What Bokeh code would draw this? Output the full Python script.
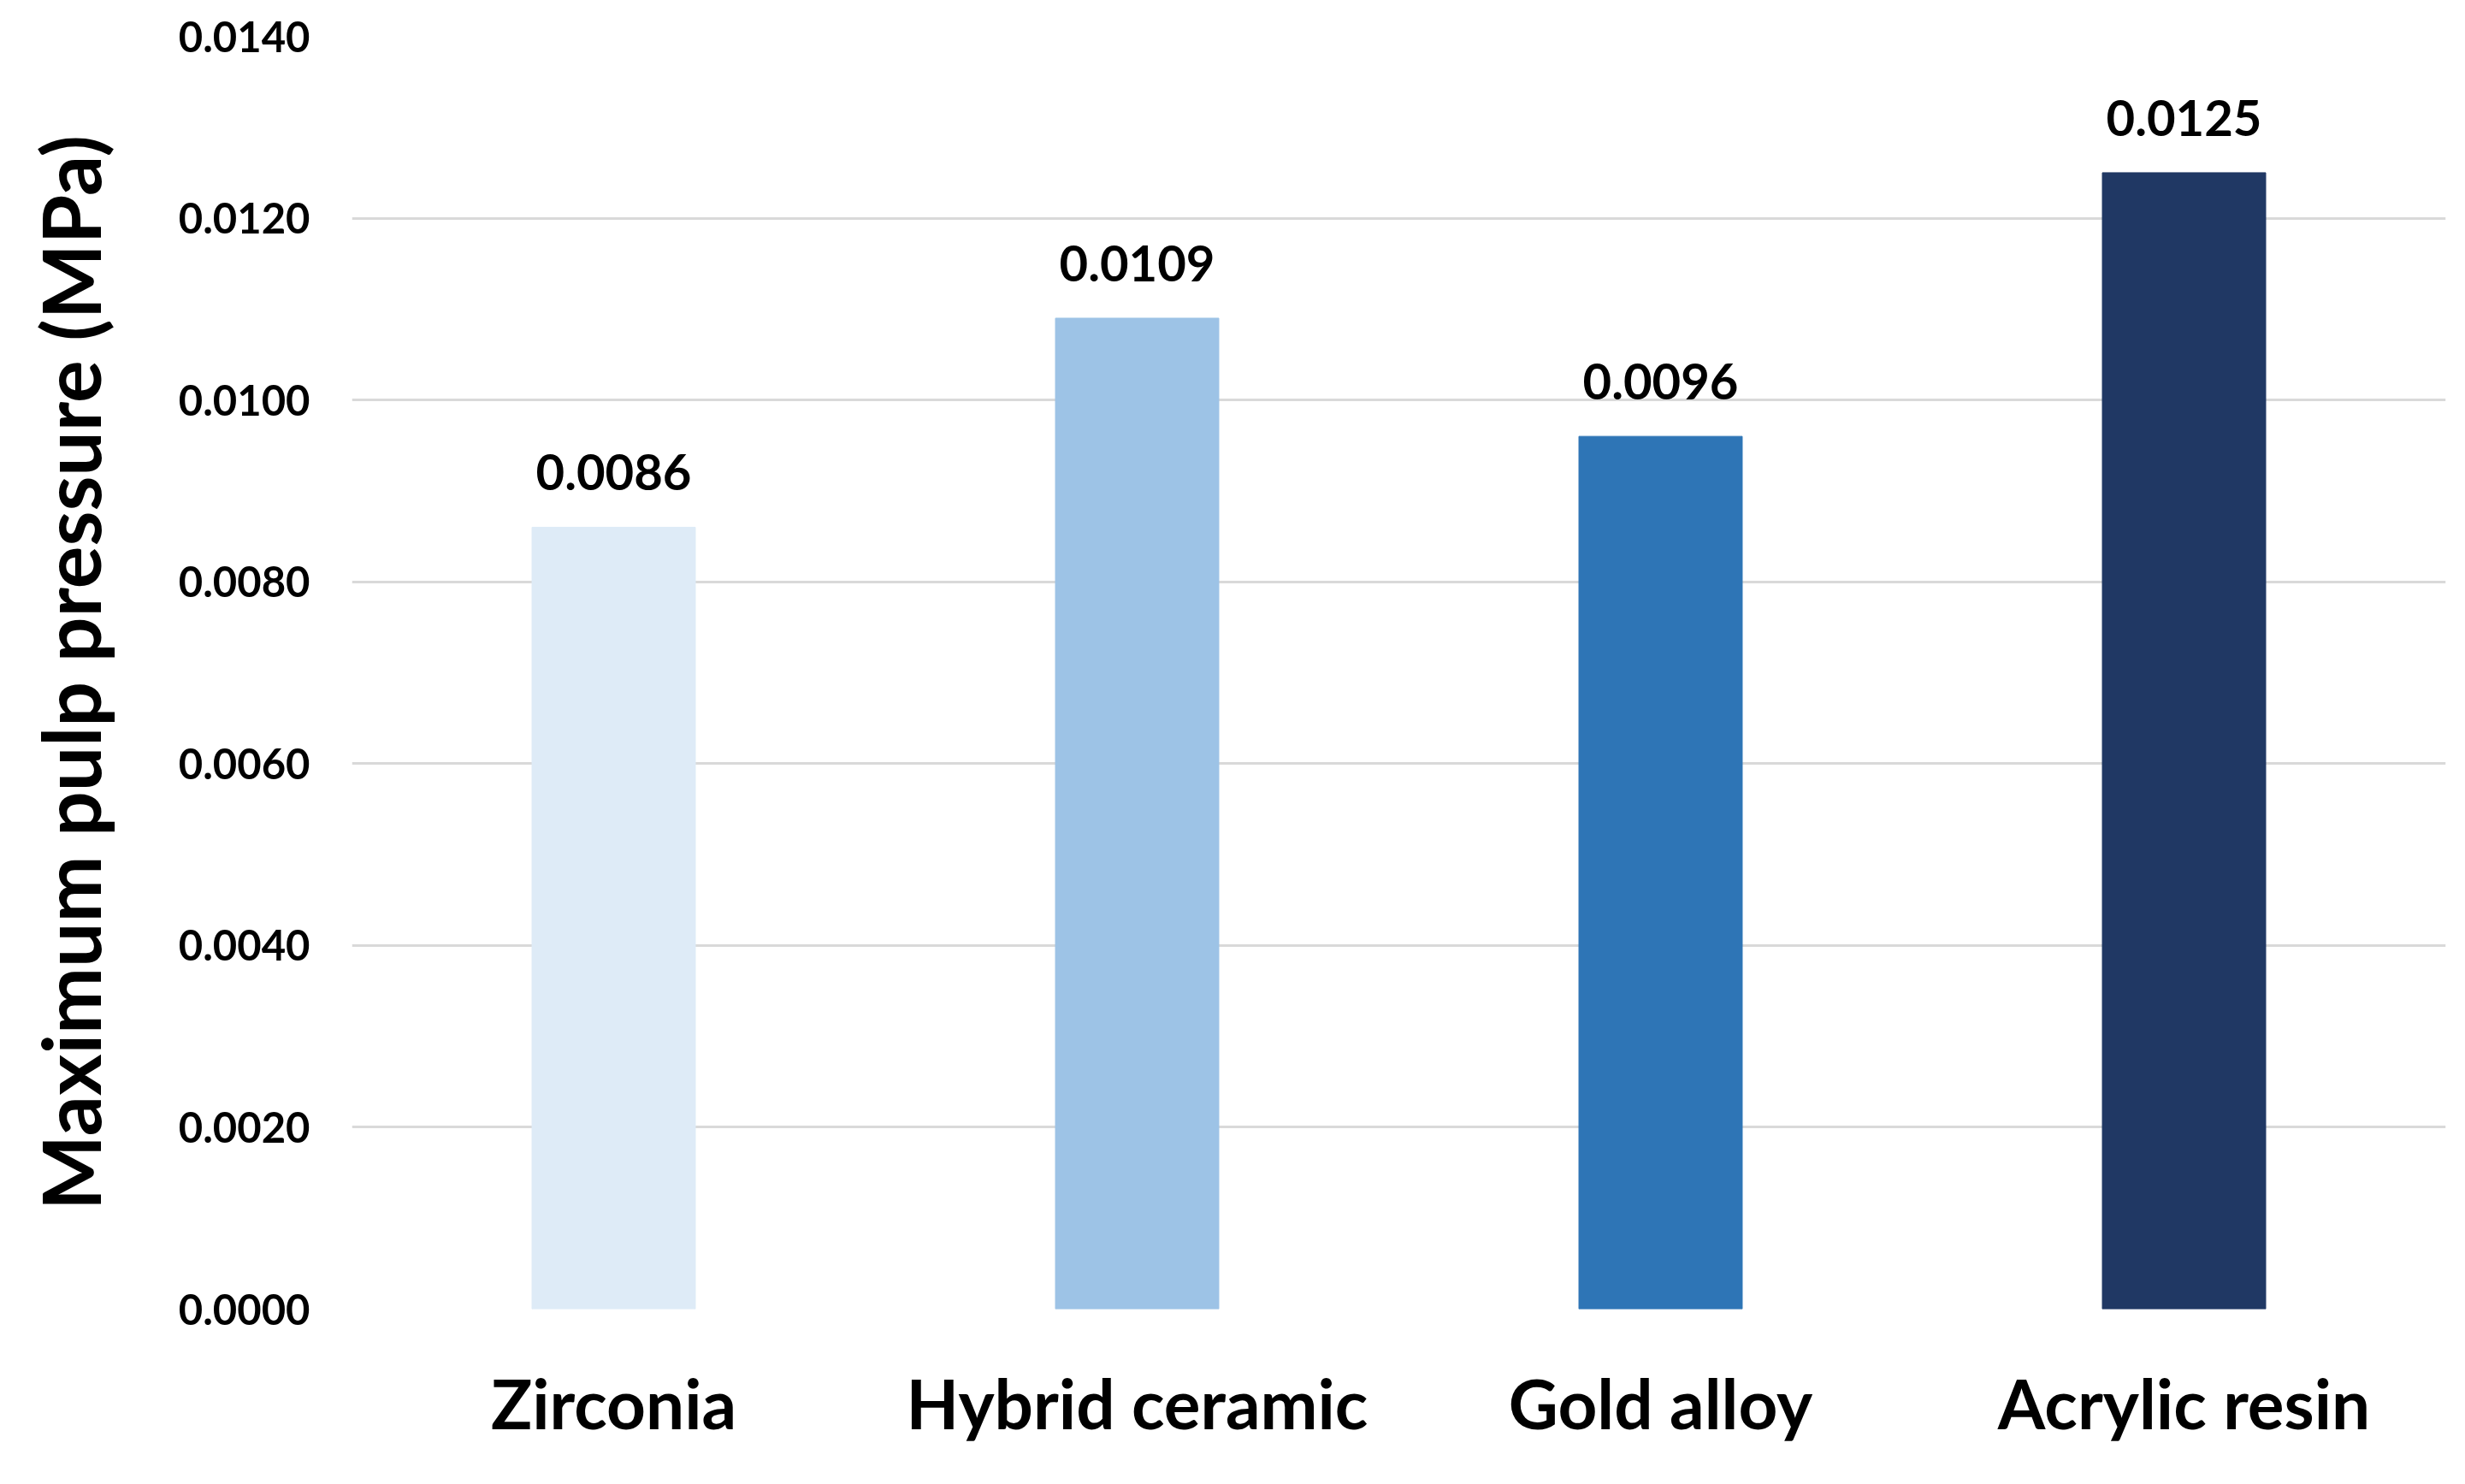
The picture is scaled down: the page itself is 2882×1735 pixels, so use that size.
from bokeh.plotting import figure
from bokeh.models import ColumnDataSource, FixedTicker, PrintfTickFormatter, LabelSet, Range1d
from bokeh.core.properties import value
from bokeh.embed import file_html
from bokeh.resources import INLINE

materials = ["Zirconia", "Hybrid ceramic", "Gold alloy", "Acrylic resin"]
pressures = [0.0086, 0.0109, 0.0096, 0.0125]
bar_colors = ["#DEEBF7", "#9DC3E6", "#2E75B6", "#203864"]
y_ticks = [0.0, 0.002, 0.004, 0.006, 0.008, 0.010, 0.012, 0.014]

FONT = "Lato"

src = ColumnDataSource(dict(
    x=materials, top=pressures, color=bar_colors,
    label=[f"{v:.4f}" for v in pressures],
))

p = figure(x_range=materials, y_range=Range1d(0, 0.014),
           width=2866, height=1719, output_backend="svg",
           toolbar_location=None,
           min_border_left=411, min_border_right=7,
           min_border_top=42, min_border_bottom=189)
p.outline_line_color = None
p.background_fill_color = "white"
p.border_fill_color = "white"

p.vbar(x="x", top="top", width=0.312, fill_color="color", line_color="color", source=src)

labels = LabelSet(x="x", y="top", text="label", source=src, text_align="center",
                  text_baseline="alphabetic", y_offset=43,
                  text_font=value(FONT), text_font_style="bold", text_font_size="58px",
                  text_color="black")
p.add_layout(labels)

p.xgrid.grid_line_color = None
p.ygrid.grid_line_color = "#D9D9D9"
p.ygrid.grid_line_width = 3
p.ygrid.ticker = FixedTicker(ticks=y_ticks)

p.yaxis.ticker = FixedTicker(ticks=y_ticks)
p.yaxis.formatter = PrintfTickFormatter(format="%.4f")
p.yaxis.axis_line_color = None
p.yaxis.major_tick_line_color = None
p.yaxis.minor_tick_line_color = None
p.yaxis.major_tick_out = 0
p.yaxis.major_label_standoff = 49
p.yaxis.major_label_text_font = FONT
p.yaxis.major_label_text_font_style = "bold"
p.yaxis.major_label_text_font_size = "49px"
p.yaxis.major_label_text_color = "black"
p.yaxis.axis_label = "Maximum pulp pressure (MPa)"
p.yaxis.axis_label_text_font = FONT
p.yaxis.axis_label_text_font_style = "bold"
p.yaxis.axis_label_text_font_size = "93px"
p.yaxis.axis_label_text_color = "black"
p.yaxis.axis_label_standoff = 68

p.xaxis.axis_line_color = None
p.xaxis.major_tick_line_color = None
p.xaxis.minor_tick_line_color = None
p.xaxis.major_tick_out = 0
p.xaxis.major_label_standoff = 61
p.xaxis.major_label_text_font = FONT
p.xaxis.major_label_text_font_style = "bold"
p.xaxis.major_label_text_font_size = "80px"
p.xaxis.major_label_text_color = "black"

open("out.html", "w").write(file_html(p, INLINE))
